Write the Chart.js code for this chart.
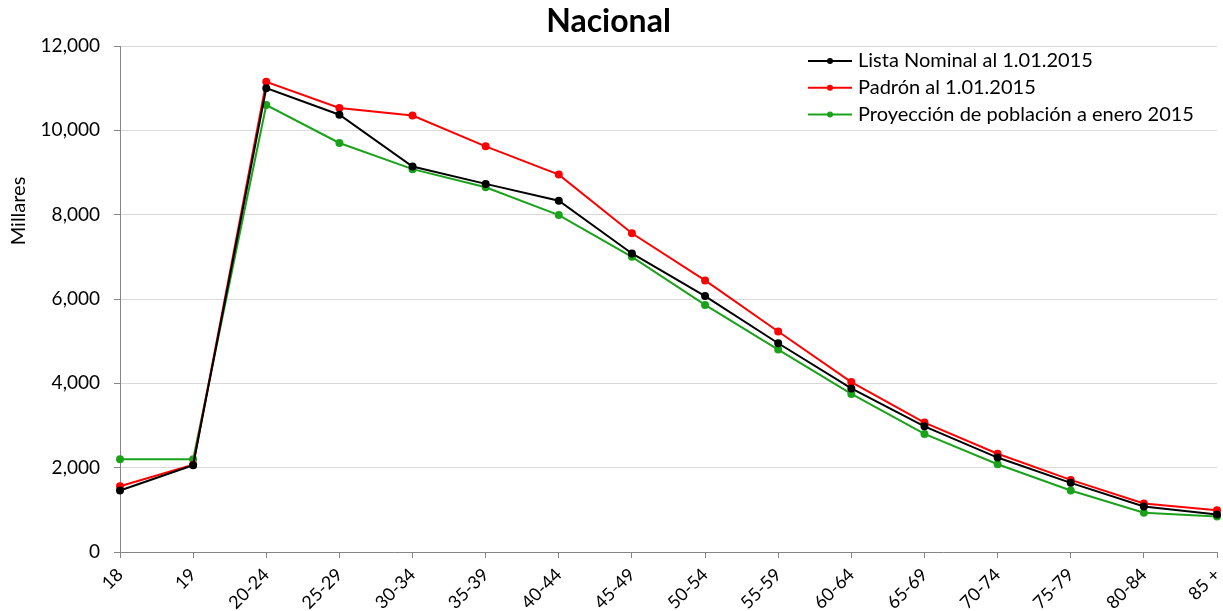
<!DOCTYPE html>
<html>
<head>
<meta charset="utf-8">
<script src="https://cdn.jsdelivr.net/npm/chart.js@4/dist/chart.umd.min.js"></script>
<style>
    html, body { margin: 0; padding: 0; background: #fff; }
    #wrap { width: 1223px; height: 611px; }
</style>
</head>
<body>
<div id="wrap"><canvas id="nacionalChart" width="1223" height="611"></canvas></div>
<script>

// age groups on the x axis
const categories = [
    '18', '19', '20-24', '25-29', '30-34', '35-39', '40-44', '45-49',
    '50-54', '55-59', '60-64', '65-69', '70-74', '75-79', '80-84', '85 +'
];

// values in thousands (Millares)
const listaNominal = [
    1460, 2060, 11000, 10370, 9140, 8730, 8330, 7080,
    6070, 4950, 3880, 2980, 2240, 1640, 1080, 890
];

const padron = [
    1560, 2070, 11150, 10530, 10350, 9620, 8950, 7560,
    6440, 5230, 4030, 3070, 2330, 1710, 1150, 990
];

const proyeccion = [
    2200, 2200, 10600, 9700, 9080, 8650, 7990, 7000,
    5860, 4800, 3750, 2800, 2080, 1460, 930, 840
];

const seriesNames = [
    'Lista Nominal al 1.01.2015',
    'Padrón al 1.01.2015',
    'Proyección de población a enero 2015'
];

const seriesColors = ['#000000', '#ff0000', '#1aa31a'];

const yMax = 12000;
const yStep = 2000;

const FONT = 'Lato, "Open Sans", "DejaVu Sans", sans-serif';

function makeDataset(label, data, color) {
    return {
        label: label,
        data: data,
        borderColor: color,
        backgroundColor: color,
        borderWidth: 2,
        pointRadius: 3,
        pointHoverRadius: 3,
        pointBackgroundColor: color,
        pointBorderColor: color,
        tension: 0
    };
}

// legend drawn inside the plot, top right, and the y axis title
const sideTextPlugin = {
    id: 'sideText',
    afterDraw(chart) {
        const ctx = chart.ctx;
        const area = chart.chartArea;

        ctx.save();

        // y axis title
        ctx.font = '20px ' + FONT;
        ctx.fillStyle = '#000';
        ctx.textAlign = 'center';
        ctx.textBaseline = 'middle';
        ctx.translate(19, 211);
        ctx.rotate(-Math.PI / 2);
        ctx.fillText('Millares', 0, 0);
        ctx.setTransform(1, 0, 0, 1, 0, 0);

        // legend
        const x0 = area.right - 409;
        const rowTop = area.top + 15;
        const rowGap = 26.7;

        chart.data.datasets.forEach((ds, i) => {
            const y = rowTop + i * rowGap;

            ctx.strokeStyle = ds.borderColor;
            ctx.lineWidth = 2;
            ctx.beginPath();
            ctx.moveTo(x0, y);
            ctx.lineTo(x0 + 44, y);
            ctx.stroke();

            ctx.fillStyle = ds.borderColor;
            ctx.beginPath();
            ctx.arc(x0 + 22, y, 3, 0, Math.PI * 2);
            ctx.fill();

            ctx.fillStyle = '#000';
            ctx.font = '20px ' + FONT;
            ctx.textAlign = 'left';
            ctx.textBaseline = 'middle';
            ctx.fillText(ds.label, x0 + 50, y);
        });

        ctx.restore();
    }
};

const ctx = document.getElementById('nacionalChart').getContext('2d');

new Chart(ctx, {

    type: 'line',

    data: {
        labels: categories,
        datasets: [
            makeDataset(seriesNames[0], listaNominal, seriesColors[0]),
            makeDataset(seriesNames[1], padron, seriesColors[1]),
            makeDataset(seriesNames[2], proyeccion, seriesColors[2])
        ]
    },

    options: {

        responsive: false,
        animation: false,
        events: [],

        layout: {
            padding: { left: 0, right: 6, top: 0, bottom: 0 }
        },

        plugins: {
            legend: { display: false },
            tooltip: { enabled: false },
            title: {
                display: true,
                text: 'Nacional',
                color: '#000',
                font: { family: FONT, size: 32, weight: 'bold', lineHeight: 1.2 },
                padding: { top: 2, bottom: 5.6 }
            }
        },

        scales: {

            x: {
                offset: false,
                grid: {
                    display: true,
                    drawOnChartArea: false,
                    drawTicks: true,
                    tickLength: 6,
                    tickColor: '#868686'
                },
                border: { color: '#868686', width: 1 },
                ticks: {
                    color: '#000',
                    font: { family: FONT, size: 18 },
                    maxRotation: 45,
                    minRotation: 45,
                    autoSkip: false,
                    padding: 6
                },
                afterFit(scale) {
                    scale.height = 59;
                    scale.paddingRight = 0;
                }
            },

            y: {
                min: 0,
                max: yMax,
                grid: {
                    color: '#d9d9d9',
                    drawTicks: true,
                    tickLength: 6,
                    tickColor: '#868686'
                },
                border: { color: '#868686', width: 1 },
                ticks: {
                    stepSize: yStep,
                    color: '#000',
                    font: { family: FONT, size: 19 },
                    padding: 14,
                    callback: (v) => v.toLocaleString('en-US')
                },
                afterFit(scale) {
                    scale.width = 120;
                }
            }
        }
    },

    plugins: [sideTextPlugin]
});
</script>
</body>
</html>
